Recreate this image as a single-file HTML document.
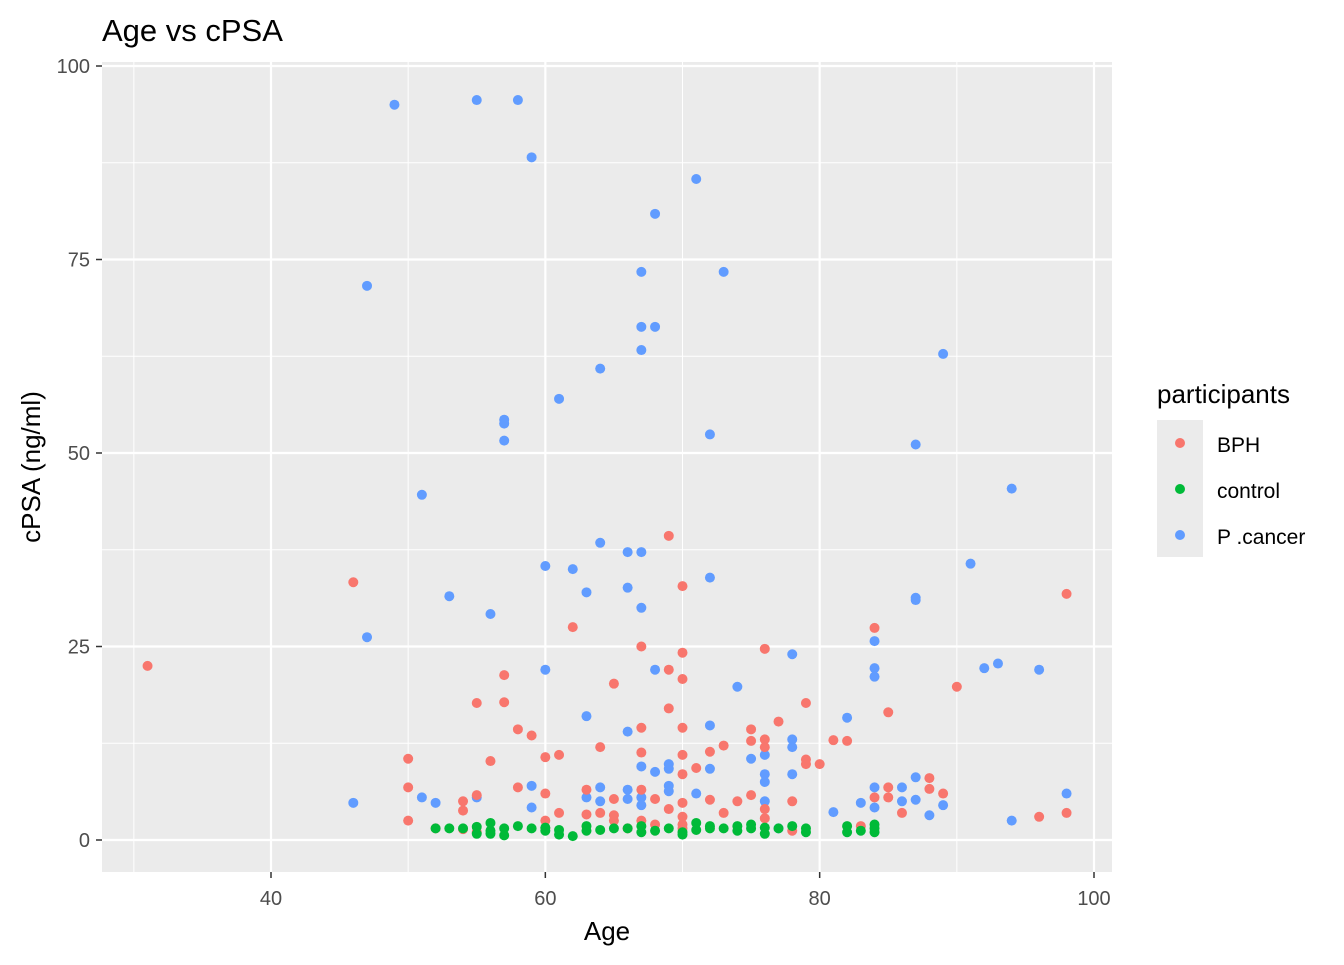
<!DOCTYPE html>
<html><head><meta charset="utf-8"><style>
body{margin:0;background:#fff;font-family:"Liberation Sans",Arial,sans-serif}
</style></head><body>
<svg id="chart" width="1344" height="960" xmlns="http://www.w3.org/2000/svg" font-family="Liberation Sans, Arial, sans-serif">
<text x="102" y="41" font-size="31" fill="#000">Age vs cPSA</text>
<rect x="102" y="62" width="1010" height="810" fill="#ebebeb"/>
<g id="grid"></g><g id="pts"></g><g id="axes"></g>
<text x="607" y="940" font-size="26" text-anchor="middle" fill="#000">Age</text>
<text transform="translate(40,467) rotate(-90)" font-size="26" text-anchor="middle" fill="#000">cPSA (ng/ml)</text>
<g>
<text x="1157" y="403" font-size="26" fill="#000">participants</text>
<rect x="1157" y="420" width="46" height="137" fill="#ebebeb"/>
<circle cx="1180" cy="443" r="5" fill="#F8766D"/>
<circle cx="1180" cy="489" r="5" fill="#00BA38"/>
<circle cx="1180" cy="535" r="5" fill="#619CFF"/>
<text x="1217" y="452" font-size="21">BPH</text>
<text x="1217" y="498" font-size="21">control</text>
<text x="1217" y="544" font-size="21">P .cancer</text>
</g>
</svg>
<script>
const xTicks=[40,60,80,100];
const yTicks=[0,25,50,75,100];
const bphAge=[31,46,50,50,50,52,54,54,54,55,55,55,56,57,57,58,58,59,60,60,60,60,61,61,62,63,63,64,64,65,65,65,65,66,67,67,67,67,67,68,68,69,69,69,69,70,70,70,70,70,70,70,70,70,70,71,72,72,73,73,74,75,75,75,76,76,76,76,76,77,78,78,79,79,79,80,81,82,83,84,84,85,85,85,86,88,88,89,90,96,98,98];
const bphVal=[22.5,33.3,10.5,6.8,2.5,1.5,5,3.8,1.4,17.7,5.8,1,10.2,21.3,17.8,14.3,6.8,13.5,10.7,6,2.5,1.5,11,3.5,27.5,6.5,3.3,12,3.5,20.2,5.3,3.2,2.5,1.5,25,14.5,11.3,6.5,2.5,5.3,2,39.3,22,17,4,32.8,24.2,20.8,14.5,11,8.5,4.8,3,2,1.5,9.3,11.4,5.2,12.2,3.5,5,14.3,12.8,5.8,24.7,13,12,4,2.8,15.3,5,1.2,17.7,10.4,9.8,9.8,12.9,12.8,1.8,27.4,5.5,16.5,6.8,5.5,3.5,8,6.6,6,19.8,3,31.8,3.5];
const ctlAge=[52,53,54,55,55,56,56,56,57,57,58,59,60,60,61,61,62,63,63,64,65,66,67,67,68,69,70,70,71,71,72,72,73,74,74,75,75,76,76,77,78,79,79,82,82,83,84,84,84];
const ctlVal=[1.5,1.5,1.5,1.7,0.8,2.2,0.8,1.2,1.5,0.6,1.8,1.5,1.2,1.6,0.7,1.3,0.5,1.8,1.2,1.3,1.5,1.5,1.8,1,1.2,1.5,1,0.7,2.2,1.3,1.8,1.5,1.5,1.8,1.2,2,1.5,1.6,0.8,1.5,1.8,1.5,1,1.8,1,1.2,2,1.5,1];
const pcaAge=[46,47,47,49,51,51,52,53,55,55,56,57,57,57,58,59,59,59,60,60,61,62,63,63,63,64,64,64,64,66,66,66,66,66,67,67,67,67,67,67,67,67,68,68,68,68,69,69,69,69,71,71,72,72,72,72,73,74,75,76,76,76,76,77,78,78,78,78,81,82,83,84,84,84,84,84,86,86,87,87,87,87,87,88,89,89,91,92,93,94,94,96,98];
const pcaVal=[4.8,71.6,26.2,95,44.6,5.5,4.8,31.5,95.6,5.5,29.2,54.3,53.8,51.6,95.6,88.2,7,4.2,35.4,22,57,35,32,16,5.5,60.9,38.4,6.8,5,37.2,32.6,14,6.5,5.3,37.2,30,73.4,66.3,63.3,9.5,5.5,4.5,80.9,66.3,22,8.8,9.8,9.2,7,6.3,85.4,6,52.4,33.9,14.8,9.2,73.4,19.8,10.5,11,8.5,7.5,5,1.5,24,13,12,8.5,3.6,15.8,4.8,25.7,22.2,21.1,6.8,4.2,5,6.8,51.1,31.3,31,8.1,5.2,3.2,62.8,4.5,35.7,22.2,22.8,45.4,2.5,22,6];
const NS='http://www.w3.org/2000/svg';
const X=v=>271+(v-40)*(1094-271)/60;
const Y=v=>840-v*(840-66)/100;
function mk(tag,attrs,parent){const e=document.createElementNS(NS,tag);for(const k in attrs)e.setAttribute(k,attrs[k]);parent.appendChild(e);return e;}
const grid=document.getElementById('grid'),axes=document.getElementById('axes'),pts=document.getElementById('pts');
for(let i=0;i<xTicks.length-1;i++){const m=(xTicks[i]+xTicks[i+1])/2;const l=mk('line',{x1:X(m),x2:X(m),y1:62,y2:872,stroke:'#fff','stroke-width':1},grid);

}
{const l=mk('line',{x1:X(30),x2:X(30),y1:62,y2:872,stroke:'#fff','stroke-width':1},grid);

}
for(let i=0;i<yTicks.length-1;i++){const m=(yTicks[i]+yTicks[i+1])/2;const l=mk('line',{x1:102,x2:1112,y1:Y(m),y2:Y(m),stroke:'#fff','stroke-width':1},grid);

}
xTicks.forEach(t=>{const l=mk('line',{x1:X(t),x2:X(t),y1:62,y2:872,stroke:'#fff','stroke-width':2.2},grid);


const k=mk('line',{x1:X(t),x2:X(t),y1:872,y2:878,stroke:'#333','stroke-width':1.5},axes);


const tx=mk('text',{x:X(t),y:905,'font-size':20,'text-anchor':'middle',fill:'#4d4d4d'},axes);tx.textContent=t;

});
yTicks.forEach(t=>{const l=mk('line',{x1:102,x2:1112,y1:Y(t),y2:Y(t),stroke:'#fff','stroke-width':2.2},grid);


const k=mk('line',{x1:96,x2:102,y1:Y(t),y2:Y(t),stroke:'#333','stroke-width':1.5},axes);


const tx=mk('text',{x:90,y:Y(t)+7,'font-size':20,'text-anchor':'end',fill:'#4d4d4d'},axes);tx.textContent=t;

});
function series(ages,vals,color,name){ages.forEach((a,i)=>{const c=mk('circle',{cx:X(a),cy:Y(vals[i]),r:5,fill:color},pts);

});}
series(pcaAge,pcaVal,'#619CFF','point-pcancer');
series(bphAge,bphVal,'#F8766D','point-bph');
series(ctlAge,ctlVal,'#00BA38','point-control');
</script>
</body></html>
